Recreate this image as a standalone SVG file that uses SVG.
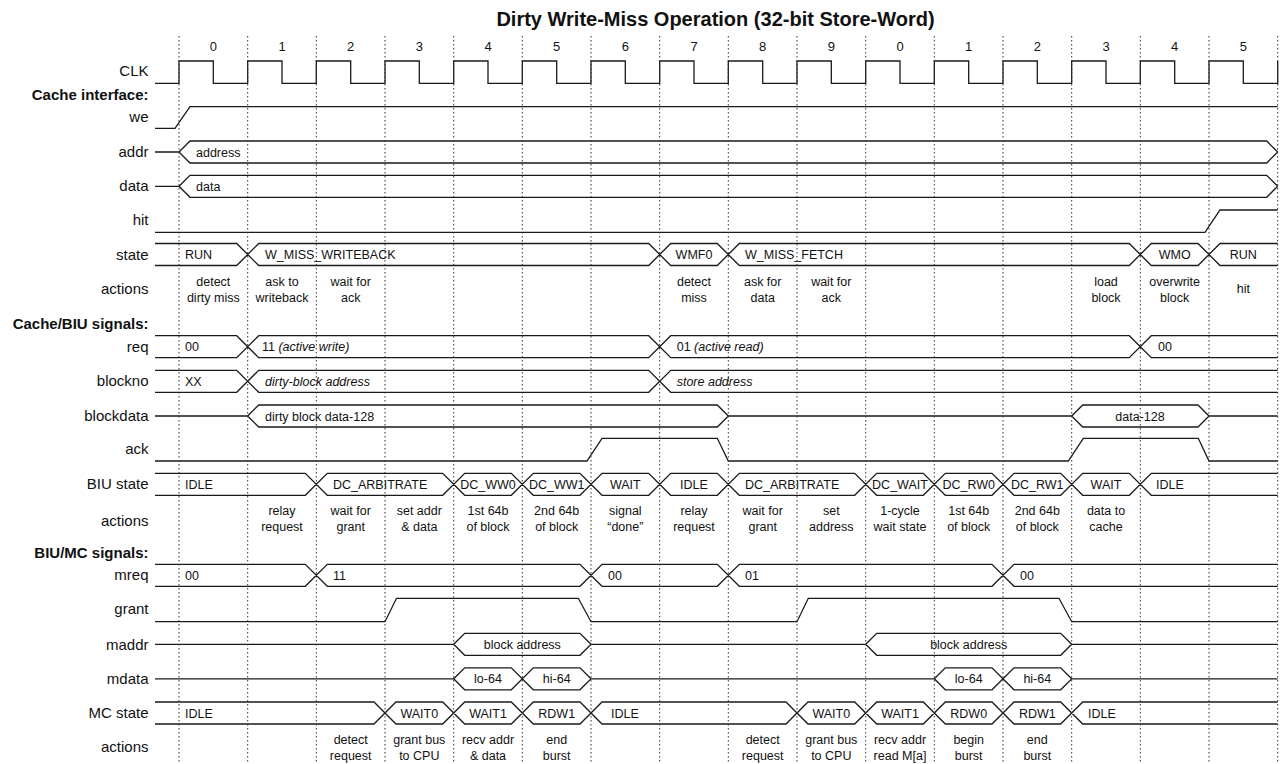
<svg xmlns="http://www.w3.org/2000/svg" width="1281" height="764" viewBox="0 0 1281 764">
<style>
.bg{fill:#fff}
.sig{fill:none;stroke:#1a1a1a;stroke-width:1.3;stroke-linejoin:miter}
.grid{stroke:#333;stroke-width:1;stroke-dasharray:1.5 2.5}
.lbl{font-family:"Liberation Sans",Arial,sans-serif;font-size:15px;fill:#111;text-anchor:end}
.hdr{font-family:"Liberation Sans",Arial,sans-serif;font-size:15px;font-weight:bold;fill:#111;text-anchor:end}
.title{font-family:"Liberation Sans",Arial,sans-serif;font-size:20px;font-weight:bold;fill:#111;text-anchor:middle}
.num{font-family:"Liberation Sans",Arial,sans-serif;font-size:13px;fill:#111;text-anchor:middle}
.v{font-family:"Liberation Sans",Arial,sans-serif;font-size:12.5px;fill:#111}
.c{text-anchor:middle}
.i{font-style:italic}
.act{font-family:"Liberation Sans",Arial,sans-serif;font-size:12.5px;fill:#111;text-anchor:middle}
</style>
<rect class="bg" x="0" y="0" width="1281" height="764"/>
<text class="title" x="715.5" y="26">Dirty Write-Miss Operation (32-bit Store-Word)</text>
<g id="cycle-numbers" class="num">
<text x="213.3" y="51">0</text><text x="282" y="51">1</text><text x="350.7" y="51">2</text><text x="419.3" y="51">3</text>
<text x="488" y="51">4</text><text x="556.7" y="51">5</text><text x="625.3" y="51">6</text><text x="694" y="51">7</text>
<text x="762.7" y="51">8</text><text x="831.3" y="51">9</text><text x="900" y="51">0</text><text x="968.7" y="51">1</text>
<text x="1037.3" y="51">2</text><text x="1106" y="51">3</text><text x="1174.7" y="51">4</text><text x="1243.3" y="51">5</text>
</g>
<g id="headers">
<text class="hdr" x="148.5" y="100">Cache interface:</text>
<text class="hdr" x="148.5" y="329.3">Cache/BIU signals:</text>
<text class="hdr" x="148.5" y="557.5">BIU/MC signals:</text>
</g>
<g id="CLK">
<text class="lbl" x="148.5" y="76">CLK</text>
<path class="sig" d="M155,83.3 H179 V61 H213.3 V83.3 H247.7 V61 H282 V83.3 H316.3 V61 H350.7 V83.3 H385 V61 H419.3 V83.3 H453.7 V61 H488 V83.3 H522.3 V61 H556.7 V83.3 H591 V61 H625.3 V83.3 H659.7 V61 H694 V83.3 H728.3 V61 H762.7 V83.3 H797 V61 H831.3 V83.3 H865.7 V61 H900 V83.3 H934.3 V61 H968.7 V83.3 H1003 V61 H1037.3 V83.3 H1071.7 V61 H1106 V83.3 H1140.3 V61 H1174.7 V83.3 H1209 V61 H1243.3 V83.3 H1277.7 V61"/>
</g>
<g id="we">
<text class="lbl" x="148.5" y="121.7">we</text>
<path class="sig" d="M155,128.3 H175 L190,106.7 H1277.7"/>
</g>
<g id="addr">
<text class="lbl" x="148.5" y="157">addr</text>
<path class="sig" d="M155,152 H179 L190,141 H1266.7 L1277.7,152 M179,152 L190,163 H1266.7 L1277.7,152"/>
<text class="v" x="196" y="156.5">address</text>
</g>
<g id="data">
<text class="lbl" x="148.5" y="191">data</text>
<path class="sig" d="M155,186.3 H179 L190,175.3 H1266.7 L1277.7,186.3 M179,186.3 L190,197.3 H1266.7 L1277.7,186.3"/>
<text class="v" x="196" y="190.8">data</text>
</g>
<g id="hit">
<text class="lbl" x="148.5" y="224.5">hit</text>
<path class="sig" d="M155,232.3 H1205 L1220,210 H1277.7"/>
</g>
<g id="state">
<text class="lbl" x="148.5" y="259.5">state</text>
<path class="sig" d="M155,243.5 H236.7 L258.7,265.5 H648.7 L670.7,243.5 H717.3 L739.3,265.5 H1129.3 L1151.3,243.5 H1198 L1220,265.5 H1277.7 M155,265.5 H236.7 L258.7,243.5 H648.7 L670.7,265.5 H717.3 L739.3,243.5 H1129.3 L1151.3,265.5 H1198 L1220,243.5 H1277.7"/>
<text class="v" x="185" y="259">RUN</text>
<text class="v" x="265" y="259">W_MISS_WRITEBACK</text>
<text class="v c" x="694" y="259">WMF0</text>
<text class="v" x="745" y="259">W_MISS_FETCH</text>
<text class="v c" x="1174.7" y="259">WMO</text>
<text class="v c" x="1243.3" y="259">RUN</text>
</g>
<g id="cache-actions">
<text class="lbl" x="148.5" y="294">actions</text>
<g class="act">
<text x="213.3" y="286">detect<tspan x="213.3" dy="15.7">dirty miss</tspan></text>
<text x="282" y="286">ask to<tspan x="282" dy="15.7">writeback</tspan></text>
<text x="350.7" y="286">wait for<tspan x="350.7" dy="15.7">ack</tspan></text>
<text x="694" y="286">detect<tspan x="694" dy="15.7">miss</tspan></text>
<text x="762.7" y="286">ask for<tspan x="762.7" dy="15.7">data</tspan></text>
<text x="831.3" y="286">wait for<tspan x="831.3" dy="15.7">ack</tspan></text>
<text x="1106" y="286">load<tspan x="1106" dy="15.7">block</tspan></text>
<text x="1174.7" y="286">overwrite<tspan x="1174.7" dy="15.7">block</tspan></text>
<text x="1243.3" y="293">hit</text>
</g>
</g>
<g id="req">
<text class="lbl" x="148.5" y="351.5">req</text>
<path class="sig" d="M155,335.7 H236.7 L258.7,357.7 H648.7 L670.7,335.7 H1129.3 L1151.3,357.7 H1277.7 M155,357.7 H236.7 L258.7,335.7 H648.7 L670.7,357.7 H1129.3 L1151.3,335.7 H1277.7"/>
<text class="v" x="185" y="351.2">00</text>
<text class="v" x="262" y="351.2">11 <tspan class="i">(active write)</tspan></text>
<text class="v" x="676.7" y="351.2">01 <tspan class="i">(active read)</tspan></text>
<text class="v" x="1158" y="351.2">00</text>
</g>
<g id="blockno">
<text class="lbl" x="148.5" y="386">blockno</text>
<path class="sig" d="M155,370.3 H236.7 L258.7,392.3 H648.7 L670.7,370.3 H1277.7 M155,392.3 H236.7 L258.7,370.3 H648.7 L670.7,392.3 H1277.7"/>
<text class="v" x="185" y="385.8">XX</text>
<text class="v i" x="265" y="385.8">dirty-block address</text>
<text class="v i" x="676.7" y="385.8">store address</text>
</g>
<g id="blockdata">
<text class="lbl" x="148.5" y="421">blockdata</text>
<path class="sig" d="M155,416 H247.7 L258.7,405 H717.3 L728.3,416 H1071.7 L1082.7,405 H1198 L1209,416 H1277.7 M247.7,416 L258.7,427 H717.3 L728.3,416 M1071.7,416 L1082.7,427 H1198 L1209,416"/>
<text class="v" x="265" y="420.5">dirty block data-128</text>
<text class="v c" x="1140" y="420.5">data-128</text>
</g>
<g id="ack">
<text class="lbl" x="148.5" y="454">ack</text>
<path class="sig" d="M155,461 H587 L602,438.3 H717.3 L728.3,461 H1068.3 L1083.3,438.3 H1198.3 L1209,461 H1277.7"/>
</g>
<g id="BIU-state">
<text class="lbl" x="148.5" y="489">BIU state</text>
<path class="sig" d="M155,473.3 H305.3 L327.3,495.3 H442.7 L464.7,473.3 H511.3 L533.3,495.3 H580 L602,473.3 H648.7 L670.7,495.3 H717.3 L739.3,473.3 H854.7 L876.7,495.3 H923.3 L945.3,473.3 H992 L1014,495.3 H1060.7 L1082.7,473.3 H1129.3 L1151.3,495.3 H1277.7 M155,495.3 H305.3 L327.3,473.3 H442.7 L464.7,495.3 H511.3 L533.3,473.3 H580 L602,495.3 H648.7 L670.7,473.3 H717.3 L739.3,495.3 H854.7 L876.7,473.3 H923.3 L945.3,495.3 H992 L1014,473.3 H1060.7 L1082.7,495.3 H1129.3 L1151.3,473.3 H1277.7"/>
<text class="v" x="185" y="488.8">IDLE</text>
<text class="v" x="333" y="488.8">DC_ARBITRATE</text>
<text class="v c" x="488" y="488.8">DC_WW0</text>
<text class="v c" x="556.7" y="488.8">DC_WW1</text>
<text class="v c" x="625.3" y="488.8">WAIT</text>
<text class="v c" x="694" y="488.8">IDLE</text>
<text class="v" x="745" y="488.8">DC_ARBITRATE</text>
<text class="v c" x="900" y="488.8">DC_WAIT</text>
<text class="v c" x="968.7" y="488.8">DC_RW0</text>
<text class="v c" x="1037.3" y="488.8">DC_RW1</text>
<text class="v c" x="1106" y="488.8">WAIT</text>
<text class="v" x="1156" y="488.8">IDLE</text>
</g>
<g id="BIU-actions">
<text class="lbl" x="148.5" y="526">actions</text>
<g class="act">
<text x="282" y="515">relay<tspan x="282" dy="16">request</tspan></text>
<text x="350.7" y="515">wait for<tspan x="350.7" dy="16">grant</tspan></text>
<text x="419.3" y="515">set addr<tspan x="419.3" dy="16">&amp; data</tspan></text>
<text x="488" y="515">1st 64b<tspan x="488" dy="16">of block</tspan></text>
<text x="556.7" y="515">2nd 64b<tspan x="556.7" dy="16">of block</tspan></text>
<text x="625.3" y="515">signal<tspan x="625.3" dy="16">“done”</tspan></text>
<text x="694" y="515">relay<tspan x="694" dy="16">request</tspan></text>
<text x="762.7" y="515">wait for<tspan x="762.7" dy="16">grant</tspan></text>
<text x="831.3" y="515">set<tspan x="831.3" dy="16">address</tspan></text>
<text x="900" y="515">1-cycle<tspan x="900" dy="16">wait state</tspan></text>
<text x="968.7" y="515">1st 64b<tspan x="968.7" dy="16">of block</tspan></text>
<text x="1037.3" y="515">2nd 64b<tspan x="1037.3" dy="16">of block</tspan></text>
<text x="1106" y="515">data to<tspan x="1106" dy="16">cache</tspan></text>
</g>
</g>
<g id="mreq">
<text class="lbl" x="148.5" y="580">mreq</text>
<path class="sig" d="M155,564.3 H305.3 L327.3,586.3 H580 L602,564.3 H717.3 L739.3,586.3 H992 L1014,564.3 H1277.7 M155,586.3 H305.3 L327.3,564.3 H580 L602,586.3 H717.3 L739.3,564.3 H992 L1014,586.3 H1277.7"/>
<text class="v" x="185" y="579.8">00</text>
<text class="v" x="333" y="579.8">11</text>
<text class="v" x="608" y="579.8">00</text>
<text class="v" x="745" y="579.8">01</text>
<text class="v" x="1020" y="579.8">00</text>
</g>
<g id="grant">
<text class="lbl" x="148.5" y="613.5">grant</text>
<path class="sig" d="M155,621.7 H385 L396.5,598.3 H578.3 L591,621.7 H797 L808.3,598.3 H1059 L1071.7,621.7 H1277.7"/>
</g>
<g id="maddr">
<text class="lbl" x="148.5" y="649.5">maddr</text>
<path class="sig" d="M155,644.3 H453.7 L464.7,633.3 H580 L591,644.3 H865.7 L876.7,633.3 H1060.7 L1071.7,644.3 H1277.7 M453.7,644.3 L464.7,655.3 H580 L591,644.3 M865.7,644.3 L876.7,655.3 H1060.7 L1071.7,644.3"/>
<text class="v c" x="522.3" y="648.8">block address</text>
<text class="v c" x="968.7" y="648.8">block address</text>
</g>
<g id="mdata">
<text class="lbl" x="148.5" y="683.5">mdata</text>
<path class="sig" d="M155,678.8 H453.7 L464.7,667.8 H511.3 L533.3,689.8 H580 L591,678.8 H934.3 L945.3,667.8 H992 L1014,689.8 H1060.7 L1071.7,678.8 H1277.7 M453.7,678.8 L464.7,689.8 H511.3 L533.3,667.8 H580 L591,678.8 M934.3,678.8 L945.3,689.8 H992 L1014,667.8 H1060.7 L1071.7,678.8"/>
<text class="v c" x="488" y="683.3">lo-64</text>
<text class="v c" x="556.7" y="683.3">hi-64</text>
<text class="v c" x="968.7" y="683.3">lo-64</text>
<text class="v c" x="1037.3" y="683.3">hi-64</text>
</g>
<g id="MC-state">
<text class="lbl" x="148.5" y="718">MC state</text>
<path class="sig" d="M155,702 H374 L396,724 H442.7 L464.7,702 H511.3 L533.3,724 H580 L602,702 H786 L808,724 H854.7 L876.7,702 H923.3 L945.3,724 H992 L1014,702 H1060.7 L1082.7,724 H1277.7 M155,724 H374 L396,702 H442.7 L464.7,724 H511.3 L533.3,702 H580 L602,724 H786 L808,702 H854.7 L876.7,724 H923.3 L945.3,702 H992 L1014,724 H1060.7 L1082.7,702 H1277.7"/>
<text class="v" x="185" y="717.5">IDLE</text>
<text class="v c" x="419.3" y="717.5">WAIT0</text>
<text class="v c" x="488" y="717.5">WAIT1</text>
<text class="v c" x="556.7" y="717.5">RDW1</text>
<text class="v" x="611" y="717.5">IDLE</text>
<text class="v c" x="831.3" y="717.5">WAIT0</text>
<text class="v c" x="900" y="717.5">WAIT1</text>
<text class="v c" x="968.7" y="717.5">RDW0</text>
<text class="v c" x="1037.3" y="717.5">RDW1</text>
<text class="v" x="1088" y="717.5">IDLE</text>
</g>
<g id="MC-actions">
<text class="lbl" x="148.5" y="752">actions</text>
<g class="act">
<text x="350.7" y="743.5">detect<tspan x="350.7" dy="16">request</tspan></text>
<text x="419.3" y="743.5">grant bus<tspan x="419.3" dy="16">to CPU</tspan></text>
<text x="488" y="743.5">recv addr<tspan x="488" dy="16">&amp; data</tspan></text>
<text x="556.7" y="743.5">end<tspan x="556.7" dy="16">burst</tspan></text>
<text x="762.7" y="743.5">detect<tspan x="762.7" dy="16">request</tspan></text>
<text x="831.3" y="743.5">grant bus<tspan x="831.3" dy="16">to CPU</tspan></text>
<text x="900" y="743.5">recv addr<tspan x="900" dy="16">read M[a]</tspan></text>
<text x="968.7" y="743.5">begin<tspan x="968.7" dy="16">burst</tspan></text>
<text x="1037.3" y="743.5">end<tspan x="1037.3" dy="16">burst</tspan></text>
</g>
</g>
<g id="connectors">
<g id="grid" class="grid">
<line x1="179" y1="36" x2="179" y2="762"/><line x1="247.7" y1="36" x2="247.7" y2="762"/>
<line x1="316.3" y1="36" x2="316.3" y2="762"/><line x1="385" y1="36" x2="385" y2="762"/>
<line x1="453.7" y1="36" x2="453.7" y2="762"/><line x1="522.3" y1="36" x2="522.3" y2="762"/>
<line x1="591" y1="36" x2="591" y2="762"/><line x1="659.7" y1="36" x2="659.7" y2="762"/>
<line x1="728.3" y1="36" x2="728.3" y2="762"/><line x1="797" y1="36" x2="797" y2="762"/>
<line x1="865.7" y1="36" x2="865.7" y2="762"/><line x1="934.3" y1="36" x2="934.3" y2="762"/>
<line x1="1003" y1="36" x2="1003" y2="762"/><line x1="1071.7" y1="36" x2="1071.7" y2="762"/>
<line x1="1140.3" y1="36" x2="1140.3" y2="762"/><line x1="1209" y1="36" x2="1209" y2="762"/>
<line x1="1277.7" y1="36" x2="1277.7" y2="762"/>
</g>
</g>
</svg>
